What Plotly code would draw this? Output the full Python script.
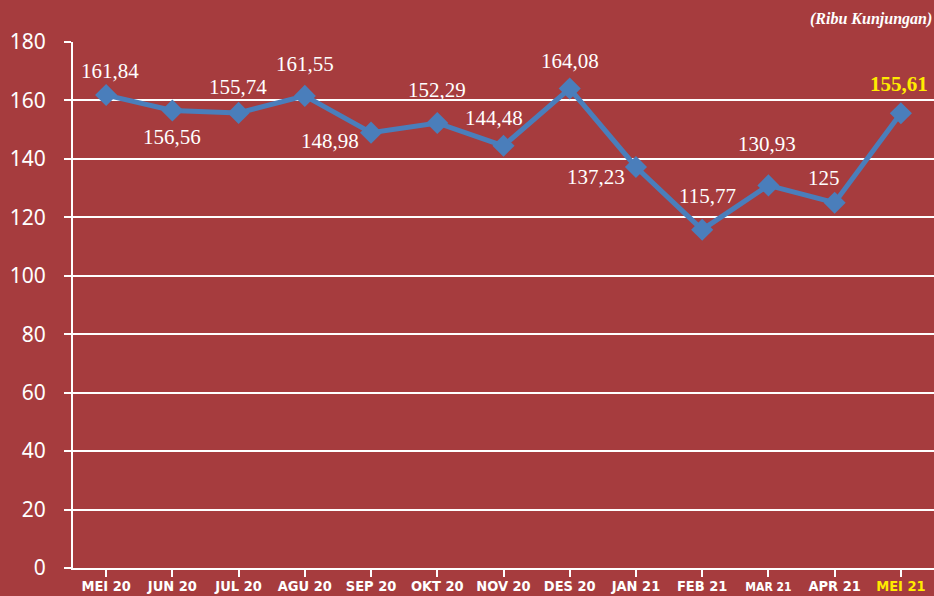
import plotly.graph_objects as go

months = ["MEI 20", "JUN 20", "JUL 20", "AGU 20", "SEP 20", "OKT 20", "NOV 20",
          "DES 20", "JAN 21", "FEB 21", "MAR 21", "APR 21", "MEI 21"]
values = [161.84, 156.56, 155.74, 161.55, 148.98, 152.29, 144.48,
          164.08, 137.23, 115.77, 130.93, 125.0, 155.61]
labels = ["161,84", "156,56", "155,74", "161,55", "148,98", "152,29", "144,48",
          "164,08", "137,23", "115,77", "130,93", "125", "155,61"]
y_ticks = [0, 20, 40, 60, 80, 100, 120, 140, 160, 180]

# label pixel offsets (style)
offsets = [(4, -24), (0, 26), (-1, -26), (0, -32), (-41, 8), (0, -33), (-10, -28),
           (0, -28), (-40, 10), (5, -34), (-1, -41), (-11, -25), (-2, -29)]

BG = "#A63C3E"
LINE = "#4A7EBB"

fig = go.Figure()
fig.add_trace(go.Scatter(
    x=list(range(len(months))), y=values, mode="lines+markers",
    line=dict(color=LINE, width=5),
    marker=dict(symbol="diamond", size=17, color=LINE),
    hoverinfo="skip", showlegend=False,
))

for i, (v, t, (dx, dy)) in enumerate(zip(values, labels, offsets)):
    last = i == len(values) - 1
    fig.add_annotation(
        x=i, y=v, text=("<b>%s</b>" % t) if last else t,
        showarrow=True, arrowcolor="rgba(0,0,0,0)", ax=dx, ay=dy,
        font=dict(family="Liberation Serif, DejaVu Serif, serif", size=21,
                  color="#FFEB00" if last else "white"),
    )

fig.add_annotation(
    xref="paper", yref="paper", x=1, y=1, yshift=34, yanchor="top", xanchor="right",
    text="<b><i>(Ribu Kunjungan)</i></b>", showarrow=False,
    font=dict(family="Liberation Serif, DejaVu Serif, serif", size=16, color="white"),
)

ticktext = []
for i, m in enumerate(months):
    if m == "MAR 21":
        ticktext.append("<b><span style='font-size:12px'>%s</span></b>" % m)
    elif i == len(months) - 1:
        ticktext.append("<b><span style='color:#FFEB00'>%s</span></b>" % m)
    else:
        ticktext.append("<b>%s</b>" % m)

fig.update_layout(
    width=934, height=596,
    margin=dict(l=73, r=0, t=42, b=28, autoexpand=False),
    paper_bgcolor=BG, plot_bgcolor=BG,
    xaxis=dict(
        range=[-0.5, 12.5], tickmode="array", tickvals=list(range(len(months))),
        ticktext=ticktext, tickson="boundaries", ticks="outside", ticklen=7,
        tickwidth=2, tickcolor="white", showgrid=False, showline=True,
        linecolor="white", linewidth=2, zeroline=False, automargin=False,
        tickfont=dict(family="DejaVu Sans Condensed, Liberation Sans Narrow, sans-serif",
                      size=14.5, color="white"),
        ticklabelstandoff=-3,
        fixedrange=True,
    ),
    yaxis=dict(
        range=[0, 180], tickmode="array", tickvals=y_ticks,
        ticks="outside", ticklen=7, tickwidth=2, tickcolor="white",
        showgrid=True, gridcolor="white", gridwidth=2, automargin=False,
        showline=True, linecolor="white", linewidth=2, zeroline=False,
        ticklabelstandoff=14,
        tickfont=dict(family="Noto Sans, Open Sans, sans-serif", size=21, color="white"),
        fixedrange=True,
    ),
)

fig.write_html("out.html", config={"displayModeBar": False},
               post_script="document.body.style.margin='0';document.body.style.overflow='hidden';")
